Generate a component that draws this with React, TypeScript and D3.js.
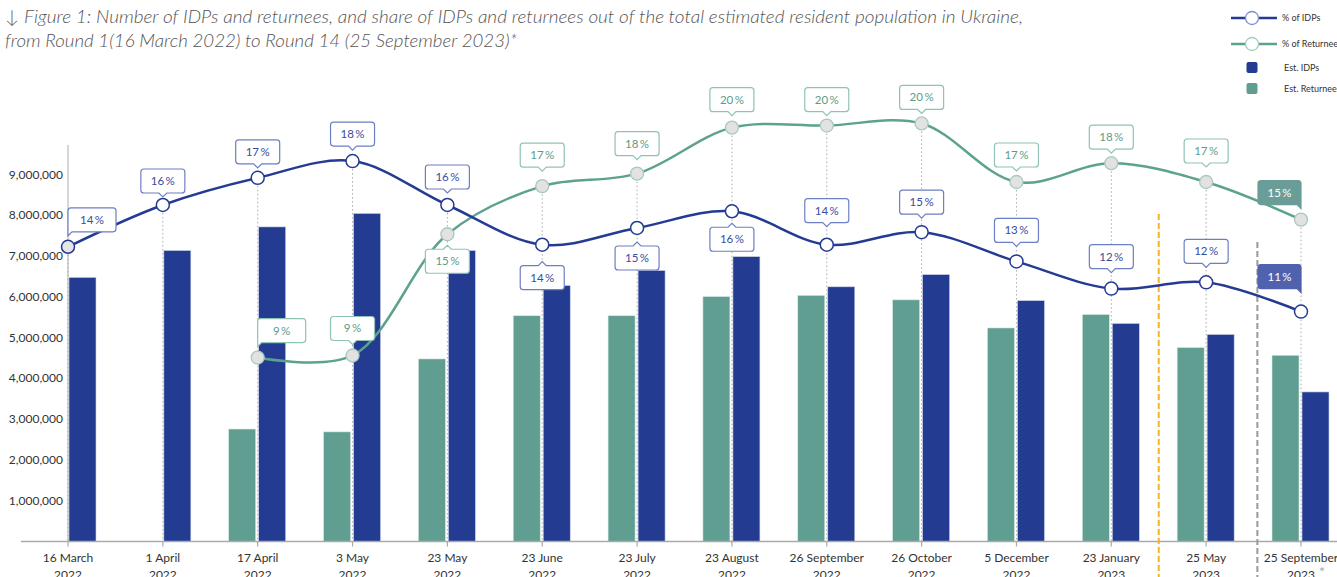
import React from 'react';
import * as d3 from 'd3';

// Rounds 1 to 14
const roundDays = ['16 March', '1 April', '17 April', '3 May', '23 May', '23 June', '23 July', '23 August', '26 September', '26 October', '5 December', '23 January', '25 May', '25 September'];
const roundYears = ['2022', '2022', '2022', '2022', '2022', '2022', '2022', '2022', '2022', '2022', '2022', '2023', '2023', '2023'];

// estimated counts
const estIdps = [6480000, 7140000, 7720000, 8050000, 7140000, 6280000, 6650000, 6990000, 6250000, 6550000, 5910000, 5350000, 5080000, 3670000];
const estReturnees = [null, null, 2760000, 2690000, 4480000, 5540000, 5540000, 6010000, 6040000, 5930000, 5240000, 5570000, 4760000, 4570000];

// share of the resident population, %
const pctIdps = [14.1, 16.1, 17.4, 18.2, 16.1, 14.2, 15.0, 15.8, 14.2, 14.8, 13.4, 12.1, 12.4, 11.0];
const pctReturnees = [null, null, 8.8, 8.9, 14.7, 17.0, 17.6, 19.8, 19.9, 20.0, 17.2, 18.1, 17.2, 15.4];

const yTicks = [1000000, 2000000, 3000000, 4000000, 5000000, 6000000, 7000000, 8000000, 9000000];

// label placement: a = above, b = below, bl = above anchored left, br = above anchored right (highlighted)
const idpPlace = ['bl', 'a', 'a', 'a', 'a', 'b', 'b', 'b', 'a', 'a', 'a', 'a', 'a', 'br'];
const idpGap = [15, 12, 14, 15, 16, 21, 18, 16, 22, 18, 19, 20, 19, 23];
const retPlace = ['', '', 'bl', 'a', 'b', 'a', 'a', 'a', 'a', 'a', 'a', 'a', 'a', 'br'];
const retGap = [0, 0, 15, 15, 15, 19, 18, 16, 14, 14, 15, 14, 19, 15];

const W = 1337;
const H = 577;
const FONT = 'Lato, "Open Sans", sans-serif';

const C = {
  idpBar: '#233c91',
  retBar: '#5f9e91',
  idpLine: '#243b93',
  retLine: '#5ca28f',
  idpBox: '#6d7fc4',
  retBox: '#8fc3b6',
  idpText: '#3a4c9f',
  retText: '#5b9c8b',
  idpFill: '#5062ad',
  retFill: '#6a9d97',
};

function calloutPath(x0: number, y0: number, w: number, h: number, notch: string) {
  const r = 3, n = 4;
  const x1 = x0 + w, y1 = y0 + h, cx = x0 + w / 2;
  const top = notch === 'tc'
    ? `M${x0 + r},${y0} H${cx - n} L${cx},${y0 - n} L${cx + n},${y0} H${x1 - r}`
    : `M${x0 + r},${y0} H${x1 - r}`;
  const right = notch === 'br'
    ? `Q${x1},${y0} ${x1},${y0 + r} V${y1 + n} L${x1 - n},${y1}`
    : `Q${x1},${y0} ${x1},${y0 + r} V${y1 - r} Q${x1},${y1} ${x1 - r},${y1}`;
  let bottom = '';
  if (notch === 'bc') bottom = `H${cx + n} L${cx},${y1 + n} L${cx - n},${y1} H${x0 + r} Q${x0},${y1} ${x0},${y1 - r}`;
  else if (notch === 'bl') bottom = `H${x0 + n} L${x0},${y1 + n}`;
  else bottom = `H${x0 + r} Q${x0},${y1} ${x0},${y1 - r}`;
  return `${top} ${right} ${bottom} V${y0 + r} Q${x0},${y0} ${x0 + r},${y0} Z`;
}

type Lbl = { x: number; y: number; v: number; place: string; gap: number; series: 'idp' | 'ret' };

function Callout({ x, y, v, place, gap, series }: Lbl) {
  const h = 24;
  let w = 44, x0 = x - w / 2, y0 = y - gap - h, notch = 'bc';
  if (place === 'b') { y0 = y + gap; notch = 'tc'; }
  if (place === 'bl') { w = 48; x0 = x; notch = 'bl'; }
  if (place === 'br') { w = 43; x0 = x - w; notch = 'br'; }
  const filled = place === 'br';
  const stroke = series === 'idp' ? C.idpBox : C.retBox;
  const fill = filled ? (series === 'idp' ? C.idpFill : C.retFill) : '#fff';
  const color = filled ? '#fff' : (series === 'idp' ? C.idpText : C.retText);
  return (
    <g>
      <path d={calloutPath(x0, y0, w, h, notch)} fill={fill} stroke={filled ? fill : stroke} strokeWidth={1.2} />
      <text x={x0 + w / 2} y={y0 + h / 2 + 4} textAnchor="middle" fontSize={11.5} fill={color} fontFamily={FONT}>
        {`${Math.round(v)}\u2009%`}
      </text>
    </g>
  );
}

export default function App() {
  const x = d3.scalePoint<number>().domain(d3.range(roundDays.length)).range([68, 1301]);
  const y = d3.scaleLinear().domain([0, 9730000]).range([541.5, 145]);
  const yPct = d3.scaleLinear().domain([0, 18.97]).range([541.5, 145]);
  const step = x.step();
  const barW = 27;

  const line = d3.line<number | null>()
    .defined((d) => d != null)
    .x((_, i) => x(i)!)
    .y((d) => yPct(d as number))
    .curve(d3.curveCatmullRom.alpha(0.5));

  const labels: Lbl[] = [];
  pctIdps.forEach((v, i) => labels.push({ x: x(i)!, y: yPct(v), v, place: idpPlace[i], gap: idpGap[i], series: 'idp' }));
  pctReturnees.forEach((v, i) => {
    if (v != null) labels.push({ x: x(i)!, y: yPct(v), v, place: retPlace[i], gap: retGap[i], series: 'ret' });
  });

  const baseY = y(0);
  const xOrange = x(11)! + step * 0.5;
  const xGrey = x(12)! + step * 0.54;

  return (
    <svg width={W} height={H} style={{ position: 'absolute', left: 0, top: 0, background: '#fff' }} fontFamily={FONT}>
      {/* title */}
      <g fill="#555" fontStyle="italic" fontWeight={300} fontSize={18}>
        <text x={5} y={23} textLength={1018} lengthAdjust="spacingAndGlyphs">
          ↓ Figure 1: Number of IDPs and returnees, and share of IDPs and returnees out of the total estimated resident population in Ukraine,
        </text>
        <text x={5} y={47} textLength={512} lengthAdjust="spacingAndGlyphs">
          from Round 1(16 March 2022) to Round 14 (25 September 2023)*
        </text>
      </g>

      {/* legend */}
      <g fontSize={9} fill="#333">
        <line x1={1231} x2={1277} y1={18} y2={18} stroke={C.idpLine} strokeWidth={2.5} />
        <circle cx={1252} cy={18} r={6.5} fill="#fff" stroke="#7d8fd6" strokeWidth={1.3} />
        <text x={1282} y={21}>% of IDPs</text>
        <line x1={1231} x2={1277} y1={44} y2={44} stroke={C.retLine} strokeWidth={2.5} />
        <circle cx={1252} cy={44} r={6.5} fill="#fff" stroke="#9fcfc0" strokeWidth={1.3} />
        <text x={1282} y={47}>% of Returnees</text>
        <rect x={1246.5} y={62} width={11} height={11} rx={2} fill={C.idpBar} />
        <text x={1284} y={71}>Est. IDPs</text>
        <rect x={1246.5} y={83} width={11} height={11} rx={2} fill={C.retBar} />
        <text x={1284} y={92}>Est. Returnees</text>
      </g>

      {/* y axis */}
      <line x1={68} x2={68} y1={145} y2={baseY} stroke="#bbb" strokeWidth={1.2} />
      {yTicks.map((t) => (
        <text key={t} x={63} y={y(t) + 4} textAnchor="end" fontSize={12} fill="#333">
          {d3.format(',')(t)}
        </text>
      ))}

      {/* bars */}
      {estReturnees.map((v, i) => v == null ? null : (
        <rect key={`r${i}`} x={x(i)! - 2 - barW} y={y(v)} width={barW} height={baseY - y(v)} fill={C.retBar} stroke="#d6e6e2" strokeWidth={0.6} />
      ))}
      {estIdps.map((v, i) => (
        <rect key={`i${i}`} x={x(i)! + 1} y={y(v)} width={barW} height={baseY - y(v)} fill={C.idpBar} stroke="#c9d0e6" strokeWidth={0.6} />
      ))}

      {/* drop lines */}
      {roundDays.map((_, i) => {
        const tops = [yPct(pctIdps[i])];
        if (pctReturnees[i] != null) tops.push(yPct(pctReturnees[i] as number));
        return (
          <line key={`d${i}`} x1={x(i)!} x2={x(i)!} y1={Math.min(...tops)} y2={baseY} stroke="#aaa" strokeWidth={1} strokeDasharray="1.5 2.5" />
        );
      })}

      {/* x axis */}
      <line x1={21} x2={W} y1={baseY} y2={baseY} stroke="#aaa" strokeWidth={1.5} />
      {roundDays.map((d, i) => (
        <g key={`x${i}`}>
          <line x1={x(i)!} x2={x(i)!} y1={baseY} y2={baseY + 5} stroke="#aaa" strokeWidth={1.2} />
          <text x={x(i)!} y={562} textAnchor="middle" fontSize={12} fill="#333">{d}</text>
          <text x={x(i)!} y={579} textAnchor="middle" fontSize={12} fill="#333">{roundYears[i]}</text>
        </g>
      ))}
      <text x={x(13)! + 18} y={577} fontSize={14} fill="#aaa">*</text>

      {/* separators */}
      <line x1={xOrange} x2={xOrange} y1={214} y2={H} stroke="#f5b324" strokeWidth={2} strokeDasharray="6 3" />
      <line x1={xGrey} x2={xGrey} y1={242} y2={H} stroke="#9a9a9a" strokeWidth={2} strokeDasharray="6 3" />

      {/* lines */}
      <path d={line(pctReturnees) || ''} fill="none" stroke={C.retLine} strokeWidth={2.5} />
      <path d={line(pctIdps) || ''} fill="none" stroke={C.idpLine} strokeWidth={2.5} />

      {/* markers */}
      {pctReturnees.map((v, i) => v == null ? null : (
        <circle key={`mr${i}`} cx={x(i)!} cy={yPct(v)} r={6.5} fill="#e2e2e2" stroke="#a9c9be" strokeWidth={1.3} />
      ))}
      {pctIdps.map((v, i) => (
        <circle key={`mi${i}`} cx={x(i)!} cy={yPct(v)} r={6.5} fill={i === 0 ? '#e6e6e6' : '#fff'} stroke={C.idpLine} strokeWidth={1.5} />
      ))}

      {/* callouts */}
      {labels.map((l, i) => <Callout key={`c${i}`} {...l} />)}
    </svg>
  );
}
